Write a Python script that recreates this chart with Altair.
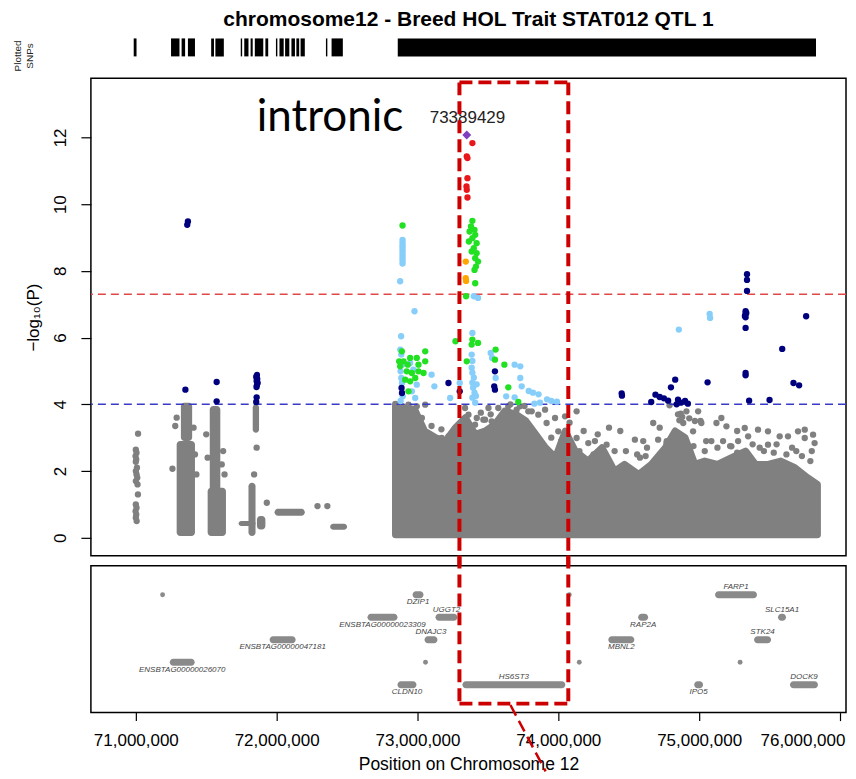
import altair as alt
import pandas as pd

TITLE = "chromosome12 - Breed HOL Trait STAT012 QTL 1"
X_LABEL = "Position on Chromosome 12"
Y_LABEL = "\u2212log\u2081\u2080(P)"
LEAD_LABEL = "73389429"
NOTE = "intronic"
RUG_LABEL = ["Plotted", "SNPs"]

# ---------------- data (positions in Mb) ----------------
rug_start = [70.985, 71.25, 71.325, 71.37, 71.535, 71.565, 71.745, 71.77, 71.815, 71.845, 71.92,
             71.995, 72.02, 72.06, 72.105, 72.14, 72.17, 72.35, 72.39, 72.86]
rug_end = [71.005, 71.31, 71.35, 71.42, 71.555, 71.625, 71.755, 71.80, 71.83, 71.905, 71.94,
           72.005, 72.05, 72.09, 72.13, 72.16, 72.20, 72.36, 72.47, 75.83]

# upper edge of the dense grey SNP mass (r2 < 0.2)
dense_x = [72.844, 72.91, 72.98, 73.05, 73.13, 73.20, 73.27, 73.34, 73.41, 73.48, 73.55, 73.62,
           73.70, 73.77, 73.84, 73.91, 73.98, 74.05, 74.12, 74.21, 74.31, 74.40, 74.47, 74.57,
           74.66, 74.76, 74.83, 74.90, 74.97, 75.04, 75.13, 75.23, 75.33, 75.40, 75.49, 75.58,
           75.68, 75.77, 75.84]
dense_top = [4.0, 3.9, 3.85, 3.2, 3.0, 2.9, 3.3, 3.6, 3.1, 3.2, 3.4, 3.8,
             3.7, 3.5, 3.1, 2.7, 2.4, 3.2, 2.6, 2.3, 2.7, 2.0, 2.2, 1.9,
             2.2, 2.7, 3.2, 3.0, 2.2, 2.3, 2.2, 2.4, 2.6, 2.2, 2.2, 2.3,
             2.1, 1.8, 1.6]
dense_bottom = 0.09

# dense vertical/horizontal strips of grey SNPs on the left
strip_x1 = [71.29, 71.32, 71.51, 71.525, 71.83, 71.80, 71.73, 71.86, 71.985, 72.38]
strip_x2 = [71.42, 71.40, 71.64, 71.60, 71.875, 71.85, 71.85, 71.92, 72.20, 72.50]
strip_y1 = [0.05, 2.9, 0.05, 1.4, 3.15, 0.05, 0.35, 0.25, 0.66, 0.24]
strip_y2 = [2.9, 4.05, 1.5, 3.95, 4.0, 1.65, 0.5, 0.65, 0.87, 0.42]

grey_x = [71.016, 71.0, 71.005, 70.998, 71.003, 71.0, 71.008, 71.0, 71.005, 71.01, 71.0, 71.012,
          71.015, 71.0, 71.005, 70.998, 71.003, 71.0, 71.006,
          71.26, 71.28, 71.29, 71.41, 71.43, 71.42, 71.50, 71.62, 71.61, 71.51, 71.63,
          71.858, 71.93, 71.84, 72.29, 72.36,
          72.877, 72.936, 72.995, 73.055, 72.889, 72.924, 72.972, 73.031, 73.125, 73.172, 73.22,
          73.267, 73.35, 73.338, 73.078, 73.196,
          73.362, 73.421, 73.480, 73.504, 73.574, 73.645, 73.728, 73.811, 73.906, 73.977,
          73.409, 73.468, 73.527, 73.598, 73.704, 73.787, 73.858, 73.917, 74.048, 74.0,
          74.130, 74.13, 74.213, 74.343, 74.544, 74.603, 74.674, 74.709, 74.768, 74.828,
          74.887, 74.91, 74.993, 74.957, 75.016, 75.123, 75.158, 75.194, 75.087, 75.170,
          75.324, 75.348, 75.418, 75.489, 75.572, 75.631, 75.702, 75.750, 75.809, 75.820,
          75.75, 75.489, 75.277, 75.229,
          74.79, 74.85, 74.87, 74.88, 74.93, 74.86, 74.97, 75.01,
          74.15, 74.25, 74.28, 74.40, 74.44, 74.56, 74.62, 74.77, 74.96, 75.04, 75.13, 75.22,
          75.27, 75.38, 75.46, 75.53, 75.62, 75.69, 75.80,
          73.10, 73.17, 73.45, 73.52, 73.66, 73.76, 73.95, 74.02, 74.08,
          74.18, 74.26, 74.36, 74.48, 74.58, 74.63, 74.72, 75.05, 75.27, 75.43, 75.55, 75.66,
          75.73, 75.79]
grey_y = [3.12, 2.64, 2.55, 2.45, 2.35, 2.28, 2.1, 2.0, 1.9, 1.8, 1.7, 1.6,
          1.3, 1.0, 0.9, 0.8, 0.7, 0.6, 0.5,
          2.07, 3.35, 3.6, 3.3, 1.9, 2.5, 3.1, 2.6, 2.2, 2.4, 1.9,
          2.7, 1.05, 1.9, 0.95, 0.95,
          3.99, 3.99, 3.94, 3.99, 3.59, 3.29, 3.09, 3.59, 2.9, 2.99, 3.04,
          2.9, 3.19, 3.89, 2.69, 2.69,
          3.69, 3.59, 3.54, 3.89, 3.89, 3.94, 3.94, 3.79, 3.84, 3.59,
          3.39, 3.54, 3.49, 3.59, 3.84, 3.79, 3.69, 3.44, 3.64, 3.19,
          3.79, 2.99, 2.84, 2.79, 2.94, 2.90, 3.44, 2.94, 2.84, 3.09,
          3.44, 3.79, 3.79, 3.19, 3.44, 3.44, 3.59, 3.34, 2.90, 2.90,
          3.29, 3.04, 3.24, 3.19, 3.04, 3.04, 3.19, 3.24, 3.09, 2.84,
          2.99, 2.79, 2.90, 2.74,
          3.97, 3.70, 3.72, 3.62, 3.58, 3.52, 3.50, 3.50,
          2.6, 2.5, 3.1, 2.6, 3.2, 2.5, 2.45, 2.9, 2.75, 2.6, 2.7, 2.75,
          2.55, 2.8, 2.6, 2.55, 2.5, 2.6, 2.6,
          3.35, 3.25, 3.75, 3.70, 4.00, 3.95, 3.00, 2.90, 3.45,
          3.2, 2.9, 3.3, 2.6, 2.4, 2.7, 3.3, 2.9, 3.2, 2.7, 2.8, 2.7,
          2.45, 2.3]

lightblue_x = [72.894, 72.894, 72.894, 72.894, 72.894, 72.894, 72.894, 72.894, 72.894, 72.894,
               72.877, 72.979, 72.884,
               72.878, 72.885, 72.89, 72.88, 72.885, 72.89, 72.895, 72.88, 72.948, 72.97, 72.995,
               72.96, 72.984, 73.1, 73.12, 73.232, 73.30,
               73.40, 73.43, 73.39, 73.385, 73.39, 73.385, 73.39, 73.40, 73.39, 73.395, 73.405,
               73.39, 73.41, 73.42, 73.415,
               73.52, 73.53, 73.555, 73.69, 73.73, 73.73, 73.74, 73.63, 73.69, 73.79, 73.82, 73.86,
               73.92, 73.95, 73.99, 73.87, 73.83,
               74.856, 75.075, 75.078]
lightblue_y = [8.93, 8.85, 8.77, 8.70, 8.62, 8.54, 8.46, 8.38, 8.30, 8.22,
               7.69, 6.79, 6.04,
               5.64, 5.49, 5.19, 4.99, 4.79, 4.64, 4.24, 4.10, 5.24, 5.04, 4.59,
               4.39, 4.19, 4.89, 4.54, 4.19, 4.64,
               7.24, 7.19, 6.14, 5.49, 5.30, 5.10, 4.95, 4.80, 4.65, 4.50, 4.35,
               4.20, 4.05, 4.60, 4.25,
               5.54, 5.39, 4.79, 5.19, 5.14, 4.79, 4.54, 4.24, 4.21, 4.40, 4.35, 4.30,
               4.15, 4.10, 4.08, 4.05, 4.02,
               6.24, 6.71, 6.59]

navy_x = [71.37, 71.365, 71.352, 71.574, 71.574,
          71.86, 71.855, 71.862, 71.858, 71.865, 71.86, 71.857, 71.858, 71.855,
          72.887, 72.89, 73.22, 73.30, 73.55, 73.545, 73.55,
          74.45, 74.452, 74.69, 74.72, 74.75, 74.78, 74.66, 74.85, 74.87, 74.90, 74.92, 74.84,
          74.80, 74.83, 75.06,
          75.34, 75.34, 75.34, 75.33, 75.335, 75.33, 75.325, 75.33, 75.33, 75.33, 75.33,
          75.355, 75.50, 75.59, 75.67, 75.71, 75.76]
navy_y = [9.48, 9.38, 4.44, 4.67, 4.09,
          4.88, 4.82, 4.76, 4.70, 4.64, 4.58, 4.52, 4.21, 4.07,
          4.49, 4.34, 4.64, 4.39, 4.99, 4.54, 4.44,
          4.33, 4.26, 4.29, 4.22, 4.18, 4.11, 4.07, 4.14, 4.05, 4.10, 4.02, 4.00,
          4.51, 4.74, 4.66,
          7.90, 7.73, 7.40, 6.79, 6.74, 6.71, 6.65, 6.61, 6.29, 4.94, 4.87,
          4.11, 4.13, 5.66, 4.64, 4.57, 6.64]

green_x = [72.894,
           72.870, 72.901, 72.877, 72.948, 72.995, 73.055, 73.007, 73.055, 72.924, 72.96, 73.007,
           73.043, 72.913, 72.948, 72.984, 72.936, 72.889, 72.931,
           73.27,
           73.39, 73.38, 73.405, 73.37, 73.41, 73.39, 73.365, 73.42, 73.40, 73.385, 73.42, 73.41,
           73.43, 73.415, 73.405, 73.41, 73.345,
           73.39, 73.385, 73.43, 73.35,
           73.555, 73.55, 73.617, 73.645, 73.716]
green_y = [9.36,
           5.29, 5.29, 5.14, 5.39, 5.39, 5.59, 5.19, 5.29, 4.99, 4.94, 4.99,
           4.94, 4.74, 4.69, 4.79, 4.39, 5.59, 5.19,
           5.89,
           9.50, 9.33, 9.23, 9.18, 9.08, 8.98, 8.88, 8.83, 8.68, 8.58, 8.53, 8.38,
           8.28, 8.13, 8.03, 7.63, 7.24,
           5.94, 5.79, 5.84, 5.29,
           5.64, 5.34, 5.19, 4.51, 4.07]

orange_x = [73.343, 73.343, 73.345]
orange_y = [8.28, 7.78, 7.70]

red_x = [73.39, 73.35, 73.355, 73.355, 73.348, 73.35, 73.355]
red_y = [11.83, 11.43, 11.38, 10.78, 10.53, 10.43, 10.20]

lead_x = [73.35]
lead_y = [12.07]

thresholds = [7.3, 4.0]
threshold_colors = ["#E04848", "#3A3AC8"]

# genes (start, end in Mb; row 1 = top)
gene_name = ["DZIP1", "FARP1", "ENSBTAG00000023309", "UGGT2", "RAP2A", "SLC15A1",
             "ENSBTAG00000047181", "DNAJC3", "MBNL2", "STK24", "ENSBTAG00000026070",
             "CLDN10", "HS6ST3", "IPO5", "DOCK9"]
gene_start = [72.965, 75.113, 72.645, 73.128, 74.567, 75.560, 71.950, 73.050, 74.355, 75.390,
              71.241, 72.858, 73.319, 74.965, 75.645]
gene_end = [73.043, 75.411, 72.858, 73.284, 74.638, 75.617, 72.135, 73.142, 74.540, 75.511,
            71.418, 72.993, 74.050, 75.028, 75.844]
gene_row = [1, 1, 2, 2, 2, 2, 3, 3, 3, 3, 4, 5, 5, 5, 5]
gene_label_side = [1, -1, 1, -1, 1, -1, 1, -1, 1, -1, 1, 1, -1, 1, -1]   # 1 below, -1 above
dot_x = [71.19, 74.078, 73.057, 74.149, 75.291]
dot_row = [1, 1, 4, 4, 4]

# highlighted region
box_left, box_right = 73.298, 74.071
box_top = 13.65
box_bottom_row = 5.84
pointer_x = [73.66, 73.91]
pointer_row = [5.9, 8.85]
note_x, note_y = 71.858, 12.19
lead_label_x, lead_label_y = 73.355, 12.57

# ---------------- chart ----------------
FONT = "Liberation Sans"
GREY = "#808080"
W = 756
xscale = alt.Scale(domain=[70.681, 76.043], nice=False, zero=False)
yscale = alt.Scale(domain=[-0.54, 13.77], nice=False, zero=False)
yaxis = alt.Axis(values=[0, 2, 4, 6, 8, 10, 12], title=Y_LABEL, labelAngle=270,
                 labelAlign="center", labelBaseline="bottom", tickSize=10, labelPadding=11,
                 domain=False, grid=False, labelFontSize=17, titleFontSize=17, titlePadding=9)
X = lambda f: alt.X(f, scale=xscale, axis=None)
Y = lambda f: alt.Y(f, scale=yscale, axis=yaxis)

# rug
rug_df = pd.DataFrame({"s": rug_start, "e": rug_end})
rug = alt.Chart(rug_df).transform_calculate(top="1", bot="0").mark_rect(color="black").encode(
    x=X("s:Q"), x2="e:Q",
    y=alt.Y("top:Q", scale=alt.Scale(domain=[-0.667, 1], nice=False, zero=False),
            axis=alt.Axis(title=RUG_LABEL, labels=False, ticks=False, domain=False, grid=False,
                          titleFontSize=10, titleLineHeight=12, titleColor="#222",
                          titleAngle=270, titleAlign="center", titleBaseline="middle",
                          titleX=-73, titleY=17)),
    y2="bot:Q",
).properties(width=W, height=30,
             title=alt.TitleParams(TITLE, fontSize=21, font=FONT, fontWeight="bold",
                                   anchor="middle", frame="group", offset=8, color="black"),
             view=alt.ViewBackground(stroke="transparent"))

dense = alt.Chart(pd.DataFrame({"x": dense_x, "t": dense_top})).mark_area(
    color=GREY, stroke=GREY, strokeWidth=7, strokeJoin="round", opacity=1
).encode(x=X("x:Q"), y=Y("t:Q"), y2=alt.datum(dense_bottom))

strips = alt.Chart(pd.DataFrame({"x1": strip_x1, "x2": strip_x2, "y1": strip_y1, "y2": strip_y2})).mark_rect(
    color=GREY, cornerRadius=3.5).encode(x=X("x1:Q"), x2="x2:Q", y=Y("y1:Q"), y2="y2:Q")


def pts(xs, ys, color, size=40):
    return alt.Chart(pd.DataFrame({"x": xs, "y": ys})).mark_circle(
        color=color, size=size, opacity=1).encode(x=X("x:Q"), y=Y("y:Q"))


grey_pts = pts(grey_x, grey_y, GREY)
lb_pts = pts(lightblue_x, lightblue_y, "#87CEFA")
navy_pts = pts(navy_x, navy_y, "#00007F")
green_pts = pts(green_x, green_y, "#22E022")
orange_pts = pts(orange_x, orange_y, "#FFA500")
red_pts = pts(red_x, red_y, "#E8171B")
lead = alt.Chart(pd.DataFrame({"x": lead_x, "y": lead_y})).mark_point(
    shape="diamond", filled=True, color="#7F3FBF", size=80, opacity=1).encode(x=X("x:Q"), y=Y("y:Q"))

thr = alt.Chart(pd.DataFrame({"y": thresholds, "c": threshold_colors})).mark_rule(
    strokeDash=[8, 5], strokeWidth=1.5).encode(y=Y("y:Q"), color=alt.Color("c:N", scale=None))

lead_txt = alt.Chart(pd.DataFrame({"x": [lead_label_x], "y": [lead_label_y], "t": [LEAD_LABEL]})).mark_text(
    font=FONT, fontSize=17, color="#222", baseline="middle").encode(x=X("x:Q"), y=Y("y:Q"), text="t:N")
note_txt = alt.Chart(pd.DataFrame({"x": [note_x], "y": [note_y], "t": [NOTE]})).mark_text(
    font="Lato", fontSize=44, color="black", align="left", baseline="alphabetic").encode(
    x=X("x:Q"), y=Y("y:Q"), text="t:N")

BOX = dict(color="#CC0000", strokeWidth=4, strokeDash=[13, 6])
box_v = alt.Chart(pd.DataFrame({"x": [box_left, box_right]})).transform_calculate(
    y1=str(box_top), y2="-0.84").mark_rule(**BOX).encode(x=X("x:Q"), y=Y("y1:Q"), y2="y2:Q")
box_t = alt.Chart(pd.DataFrame({"x": [box_left], "x2": [box_right], "y": [box_top]})).mark_rule(
    **BOX).encode(x=X("x:Q"), x2="x2:Q", y=Y("y:Q"))

main = alt.layer(dense, strips, grey_pts, thr, lb_pts, navy_pts, green_pts, orange_pts, red_pts,
                 lead, lead_txt, note_txt, box_v, box_t).properties(width=W, height=478)

# gene panel
gscale = alt.Scale(domain=[-0.29, 6.24], reverse=True, nice=False, zero=False)
xaxis = alt.Axis(values=[71, 72, 73, 74, 75, 76], labelExpr="format(datum.value * 1000000, ',.0f')",
                 title=X_LABEL, tickSize=8, labelPadding=12, titlePadding=7, domain=False, grid=False,
                 labelFontSize=17, titleFontSize=17.5, labelFlush=False, labelOverlap=False,
                 labelAlign={"condition": {"test": "datum.value >= 76", "value": "right"}, "value": "center"},
                 labelOffset={"condition": {"test": "datum.value >= 76", "value": 5}, "value": 0})
GX = lambda f: alt.X(f, scale=xscale, axis=xaxis)
GY = lambda f: alt.Y(f, scale=gscale, axis=None)

genes_df = pd.DataFrame({"name": gene_name, "s": gene_start, "e": gene_end, "row": gene_row,
                         "side": gene_label_side})
gbars = alt.Chart(genes_df).transform_calculate(
    y1="datum.row - 0.155", y2="datum.row + 0.155").mark_rect(color="#8A8A8A", cornerRadius=3.5).encode(
    x=GX("s:Q"), x2="e:Q", y=GY("y1:Q"), y2="y2:Q")
glabels = alt.Chart(genes_df).transform_calculate(
    mid="(datum.s + datum.e) / 2", ly="datum.row + datum.side * 0.33").mark_text(
    font=FONT, fontSize=8, fontStyle="italic", color="#444", baseline="middle").encode(
    x=GX("mid:Q"), y=GY("ly:Q"), text="name:N")
gdots = alt.Chart(pd.DataFrame({"x": dot_x, "row": dot_row})).mark_circle(
    color="#8A8A8A", size=24, opacity=1).encode(x=GX("x:Q"), y=GY("row:Q"))
gbox_v = alt.Chart(pd.DataFrame({"x": [box_left, box_right]})).transform_calculate(
    y1="-0.75", y2=str(box_bottom_row)).mark_rule(**BOX).encode(x=GX("x:Q"), y=GY("y1:Q"), y2="y2:Q")
gbox_b = alt.Chart(pd.DataFrame({"x": [box_left], "x2": [box_right], "y": [box_bottom_row]})).mark_rule(
    **BOX).encode(x=GX("x:Q"), x2="x2:Q", y=GY("y:Q"))
gptr = alt.Chart(pd.DataFrame({"x": [pointer_x[0]], "x2": [pointer_x[1]], "y": [pointer_row[0]],
                               "y2": [pointer_row[1]]})).mark_rule(color="#CC0000", strokeWidth=2.5,
                                                                   strokeDash=[12, 6]).encode(
    x=GX("x:Q"), x2="x2:Q", y=GY("y:Q"), y2="y2:Q")

gene = alt.layer(gbars, gdots, glabels, gbox_v, gbox_b, gptr).properties(width=W, height=147)

chart = alt.vconcat(rug, main, gene, spacing=10, bounds="flush").properties(
    padding={"left": 4, "top": 0, "right": 0, "bottom": 0}
).configure_view(stroke="black", strokeWidth=1.5).configure_axis(
    labelFont=FONT, titleFont=FONT, labelColor="black", titleColor="black", tickColor="black",
    titleFontWeight="normal", tickWidth=1.2)

chart.save("out.html", embed_options={"renderer": "svg", "actions": False})
